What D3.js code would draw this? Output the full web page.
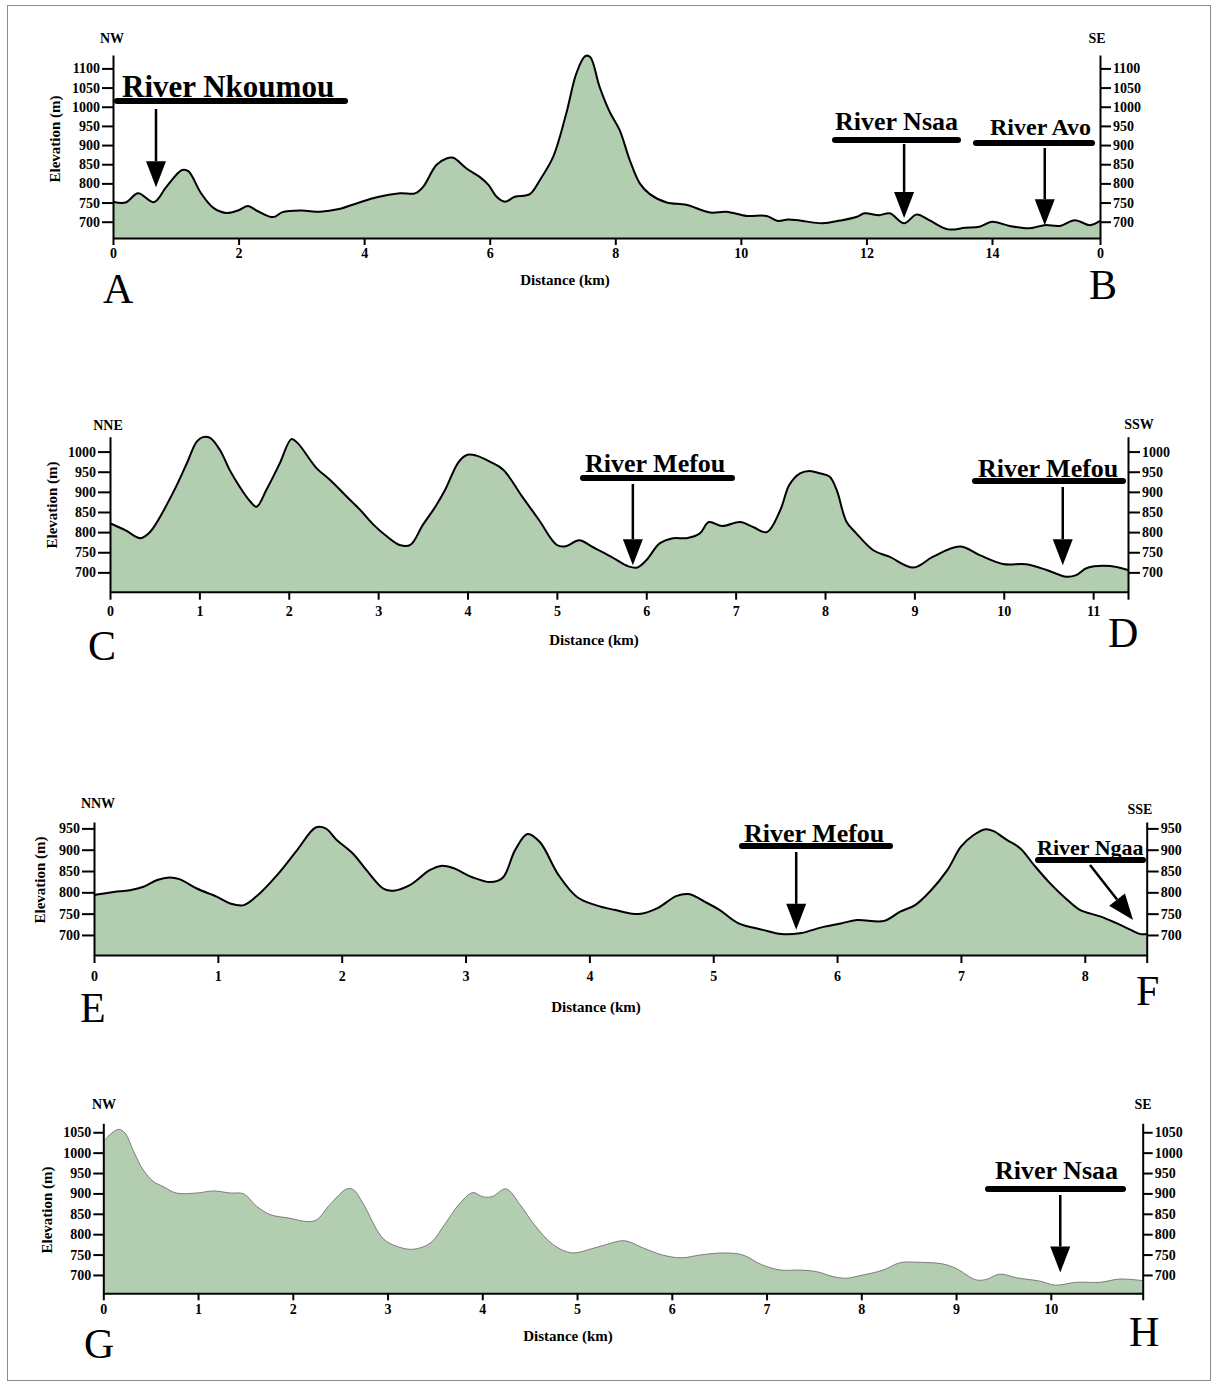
<!DOCTYPE html>
<html>
<head>
<meta charset="utf-8">
<script src="https://cdn.jsdelivr.net/npm/d3@7"></script>
<style>
  body { margin: 0; background: #fff; }
  svg text { font-family: "Liberation Serif", "Times New Roman", serif; }
</style>
</head>
<body>
<div id="chart"></div>
<script>
// elevation profiles, [distance km, elevation m]
var profileAB = [[0,752],[0.2,750],[0.4,774],[0.65,751],[0.85,791],[1.1,835],[1.2,832],[1.4,775],[1.6,736],[1.8,723],[2.0,730],[2.15,741],[2.3,728],[2.55,712],[2.7,725],[3.0,729],[3.3,726],[3.6,733],[3.9,749],[4.2,764],[4.57,774],[4.81,774],[4.94,791],[5.15,848],[5.31,865],[5.42,867],[5.63,839],[5.84,817],[5.98,796],[6.11,765],[6.24,752],[6.4,765],[6.64,772],[6.8,809],[7.01,869],[7.22,983],[7.38,1087],[7.52,1132],[7.6,1130],[7.75,1052],[7.91,987],[8.07,939],[8.23,861],[8.39,800],[8.55,772],[8.82,750],[9.13,744],[9.51,724],[9.77,726],[10.09,715],[10.41,715],[10.59,702],[10.75,706],[10.94,703],[11.3,696],[11.58,703],[11.85,713],[11.97,722],[12.2,717],[12.37,722],[12.6,696],[12.8,719],[13.0,704],[13.3,680],[13.57,684],[13.8,687],[14.0,700],[14.28,689],[14.6,683],[14.84,691],[15.08,689],[15.32,704],[15.56,691],[15.72,702]];

var profileCD = [[0,822],[0.17,805],[0.34,785],[0.45,801],[0.71,900],[0.86,971],[0.97,1025],[1.04,1036],[1.12,1034],[1.23,1004],[1.34,954],[1.45,913],[1.57,876],[1.64,863],[1.75,905],[1.9,971],[2.03,1031],[2.1,1021],[2.31,959],[2.46,930],[2.65,888],[2.8,855],[2.95,818],[3.1,789],[3.24,768],[3.36,768],[3.5,818],[3.64,863],[3.75,905],[3.9,974],[4.0,992],[4.1,990],[4.25,975],[4.4,955],[4.6,892],[4.8,830],[5.0,768],[5.1,765],[5.25,780],[5.4,763],[5.6,740],[5.8,715],[5.9,712],[6.0,730],[6.15,772],[6.3,785],[6.45,785],[6.6,797],[6.7,825],[6.85,815],[7.05,825],[7.2,812],[7.35,800],[7.5,855],[7.6,917],[7.72,946],[7.83,952],[7.94,946],[8.05,938],[8.13,905],[8.24,826],[8.35,797],[8.54,755],[8.72,739],[8.99,712],[9.21,739],[9.51,764],[9.73,743],[9.99,721],[10.25,720],[10.48,706],[10.7,689],[10.81,693],[10.93,711],[11.19,716],[11.39,706]];

var profileEF = [[0,794],[0.16,801],[0.29,805],[0.4,813],[0.51,829],[0.61,835],[0.69,831],[0.83,809],[0.99,790],[1.1,774],[1.21,770],[1.31,790],[1.48,841],[1.64,899],[1.79,952],[1.87,950],[1.96,923],[2.09,891],[2.2,852],[2.34,808],[2.42,804],[2.55,817],[2.71,852],[2.8,862],[2.9,857],[3.05,836],[3.2,824],[3.3,834],[3.4,899],[3.5,937],[3.6,918],[3.75,841],[3.9,789],[4.05,770],[4.2,759],[4.4,749],[4.55,763],[4.7,791],[4.8,796],[4.95,775],[5.05,759],[5.2,728],[5.4,712],[5.55,702],[5.7,704],[5.89,719],[6.03,727],[6.16,735],[6.38,733],[6.51,755],[6.63,770],[6.75,802],[6.89,852],[7.0,907],[7.1,934],[7.2,948],[7.26,944],[7.37,923],[7.48,903],[7.59,864],[7.72,821],[7.86,782],[7.96,759],[8.13,743],[8.26,727],[8.4,708],[8.45,702],[8.5,702]];

var profileGH = [[0,1028],[0.07,1044],[0.16,1057],[0.23,1048],[0.32,1003],[0.42,958],[0.53,929],[0.63,917],[0.77,901],[0.99,901],[1.16,906],[1.34,901],[1.48,899],[1.62,868],[1.76,848],[1.97,839],[2.15,831],[2.25,835],[2.39,872],[2.57,911],[2.64,909],[2.74,876],[2.95,790],[3.1,770],[3.27,763],[3.45,778],[3.6,823],[3.75,872],[3.9,902],[4.0,892],[4.1,892],[4.25,911],[4.4,872],[4.55,823],[4.75,774],[4.95,754],[5.15,764],[5.3,774],[5.5,784],[5.7,766],[5.9,749],[6.1,742],[6.3,749],[6.55,754],[6.75,749],[6.95,725],[7.15,712],[7.35,712],[7.53,708],[7.7,696],[7.84,692],[7.98,698],[8.23,712],[8.41,730],[8.62,731],[8.86,727],[9.0,716],[9.21,688],[9.32,689],[9.46,702],[9.64,693],[9.88,685],[10.05,675],[10.27,682],[10.52,682],[10.73,690],[10.97,686]];

// tick values
var elevTicksAB = [700,750,800,850,900,950,1000,1050,1100];
var elevTicksCD = [700,750,800,850,900,950,1000];
var elevTicksEF = [700,750,800,850,900,950];
var elevTicksGH = [700,750,800,850,900,950,1000,1050];
var distTicksAB = [0,2,4,6,8,10,12,14];
var distTicksCD = [0,1,2,3,4,5,6,7,8,9,10,11];
var distTicksEF = [0,1,2,3,4,5,6,7,8];
var distTicksGH = [0,1,2,3,4,5,6,7,8,9,10];

// rivers: name, distance (km), elevation at arrow tip (m)
var riversAB = [["River Nkoumou",0.685,790],["River Nsaa",12.6,710],["River Avo",14.84,691]];
var riversCD = [["River Mefou",5.85,718],["River Mefou",10.66,718]];
var riversEF = [["River Mefou",5.67,712],["River Ngaa",8.39,735]];
var riversGH = [["River Nsaa",10.1,706]];

var fillColor = "#b2cdb0";

var svg = d3.select("#chart").append("svg")
    .attr("width", 1217)
    .attr("height", 1385);

svg.append("rect")
    .attr("x", 7.5).attr("y", 5.5)
    .attr("width", 1203).attr("height", 1375)
    .attr("fill", "none")
    .attr("stroke", "#8a8a8a");

var panels = [
  {data: profileAB, length: 15.72, xRange: [113, 1100], elev: [657.5, 1135], yRange: [238, 55],
   elevTicks: elevTicksAB, distTicks: distTicksAB, endZero: true,
   xTick: [7, 3], yTick: [11, 2],
   dirs: [["NW", 112, 43], ["SE", 1097, 43]], ends: [["A", 103, 303], ["B", 1089, 299]],
   xTitle: [565, 285], yTitle: [60, 139],
   rivers: riversAB,
   notes: [{tx: 122, ty: 97, size: 31, bx: [117, 345], by: 101, sy: 109},
           {tx: 835, ty: 130, size: 26, bx: [835, 958], by: 140, sy: 144},
           {tx: 990, ty: 135, size: 24, bx: [976, 1092], by: 143, sy: 148}]},
  {data: profileCD, length: 11.39, xRange: [110, 1128], elev: [652, 1037], yRange: [591.7, 436.7],
   elevTicks: elevTicksCD, distTicks: distTicksCD,
   xTick: [8, 6], yTick: [12, 2],
   dirs: [["NNE", 108, 430], ["SSW", 1139, 429]], ends: [["C", 88, 660], ["D", 1108, 647]],
   xTitle: [594, 645], yTitle: [57, 505],
   rivers: riversCD,
   notes: [{tx: 585, ty: 472, size: 26, bx: [583, 732], by: 478, sy: 484},
           {tx: 978, ty: 477, size: 26, bx: [975, 1123], by: 481, sy: 487}]},
  {data: profileEF, length: 8.5, xRange: [94, 1146.7], elev: [653, 965], yRange: [955, 822],
   elevTicks: elevTicksEF, distTicks: distTicksEF,
   xTick: [8, 8], yTick: [12, 2],
   dirs: [["NNW", 98, 808], ["SSE", 1140, 814]], ends: [["E", 80, 1022], ["F", 1136, 1005]],
   xTitle: [596, 1012], yTitle: [45, 880],
   rivers: riversEF,
   notes: [{tx: 744, ty: 842, size: 26, bx: [742, 890], by: 846, sy: 852},
           {tx: 1037, ty: 855, size: 22, bx: [1038, 1143], by: 860, sy: 865, sx: 1090}]},
  {data: profileGH, length: 10.97, xRange: [103.3, 1142.7], elev: [655, 1072], yRange: [1293.3, 1123.3],
   elevTicks: elevTicksGH, distTicks: distTicksGH, thin: true,
   xTick: [7, 4], yTick: [10, 2],
   dirs: [["NW", 104, 1109], ["SE", 1143, 1109]], ends: [["G", 84, 1358], ["H", 1129, 1346]],
   xTitle: [568, 1341], yTitle: [52, 1210],
   rivers: riversGH,
   notes: [{tx: 995, ty: 1179, size: 26, bx: [988, 1123], by: 1189, sy: 1195}]}
];

function styleAxis(sel) {
  sel.select(".domain").attr("stroke", "#000").attr("stroke-width", 2);
  sel.selectAll(".tick line").attr("stroke", "#000").attr("stroke-width", 2);
  sel.selectAll(".tick text")
      .attr("fill", "#000")
      .style("font-family", "'Liberation Serif', serif")
      .style("font-weight", "bold")
      .style("font-size", "14px");
}

function drawArrow(g, x1, y1, x2, y2) {
  var dx = x2 - x1, dy = y2 - y1;
  var len = Math.sqrt(dx * dx + dy * dy);
  var ux = dx / len, uy = dy / len;
  var hl = 26, hw = 10;
  var bx = x2 - ux * hl, by = y2 - uy * hl;
  g.append("line")
      .attr("x1", x1).attr("y1", y1)
      .attr("x2", bx).attr("y2", by)
      .attr("stroke", "#000").attr("stroke-width", 2.5);
  g.append("path")
      .attr("d", "M" + x2 + "," + y2 +
                 "L" + (bx - uy * hw) + "," + (by + ux * hw) +
                 "L" + (bx + uy * hw) + "," + (by - ux * hw) + "Z")
      .attr("fill", "#000");
}

panels.forEach(function(p) {
  var x = d3.scaleLinear().domain([0, p.length]).range(p.xRange);
  var y = d3.scaleLinear().domain(p.elev).range(p.yRange);
  var g = svg.append("g");

  var area = d3.area()
      .curve(d3.curveCatmullRom)
      .x(function(d) { return x(d[0]); })
      .y0(y(p.elev[0]))
      .y1(function(d) { return y(d[1]); });
  var line = d3.line()
      .curve(d3.curveCatmullRom)
      .x(function(d) { return x(d[0]); })
      .y(function(d) { return y(d[1]); });

  g.append("path").datum(p.data).attr("d", area).attr("fill", fillColor);
  g.append("path").datum(p.data).attr("d", line)
      .attr("fill", "none")
      .attr("stroke", p.thin ? "#7d7d7d" : "#000")
      .attr("stroke-width", p.thin ? 1 : 2)
      .attr("stroke-linejoin", "round");

  // X axis (the A-B profile also labels its far end "0")
  var xAxis = g.append("g")
      .attr("transform", "translate(0," + p.yRange[0] + ")")
      .call(d3.axisBottom(x).tickValues(p.distTicks.concat([p.length]))
          .tickFormat(function(d) { return d === p.length ? (p.endZero ? "0" : "") : d; })
          .tickSize(p.xTick[0]).tickPadding(p.xTick[1]).tickSizeOuter(0));
  styleAxis(xAxis);

  // Y axes, left and right
  var yl = g.append("g")
      .attr("transform", "translate(" + p.xRange[0] + ",0)")
      .call(d3.axisLeft(y).tickValues(p.elevTicks).tickFormat(d3.format("d"))
          .tickSize(p.yTick[0]).tickPadding(p.yTick[1]).tickSizeOuter(0));
  styleAxis(yl);
  var yr = g.append("g")
      .attr("transform", "translate(" + p.xRange[1] + ",0)")
      .call(d3.axisRight(y).tickValues(p.elevTicks).tickFormat(d3.format("d"))
          .tickSize(p.yTick[0]).tickPadding(p.yTick[1]).tickSizeOuter(0));
  styleAxis(yr);

  // titles
  g.append("text")
      .attr("x", p.xTitle[0]).attr("y", p.xTitle[1])
      .attr("text-anchor", "middle")
      .style("font-weight", "bold").style("font-size", "15px")
      .text("Distance (km)");
  g.append("text")
      .attr("transform", "translate(" + p.yTitle[0] + "," + p.yTitle[1] + ") rotate(-90)")
      .attr("text-anchor", "middle")
      .style("font-weight", "bold").style("font-size", "15px")
      .text("Elevation (m)");

  p.dirs.forEach(function(d) {
    g.append("text")
        .attr("x", d[1]).attr("y", d[2])
        .attr("text-anchor", "middle")
        .style("font-weight", "bold").style("font-size", "14px")
        .text(d[0]);
  });
  p.ends.forEach(function(d) {
    g.append("text")
        .attr("x", d[1]).attr("y", d[2])
        .style("font-size", "42px")
        .text(d[0]);
  });

  // river annotations
  p.rivers.forEach(function(r, i) {
    var n = p.notes[i];
    g.append("text")
        .attr("x", n.tx).attr("y", n.ty)
        .style("font-weight", "bold").style("font-size", n.size + "px")
        .text(r[0]);
    g.append("line")
        .attr("x1", n.bx[0]).attr("x2", n.bx[1])
        .attr("y1", n.by).attr("y2", n.by)
        .attr("stroke", "#000").attr("stroke-width", 6)
        .attr("stroke-linecap", "round");
    var tx = x(r[1]), ty = y(r[2]);
    drawArrow(g, n.sx !== undefined ? n.sx : tx, n.sy, tx, ty);
  });
});
</script>
</body>
</html>
